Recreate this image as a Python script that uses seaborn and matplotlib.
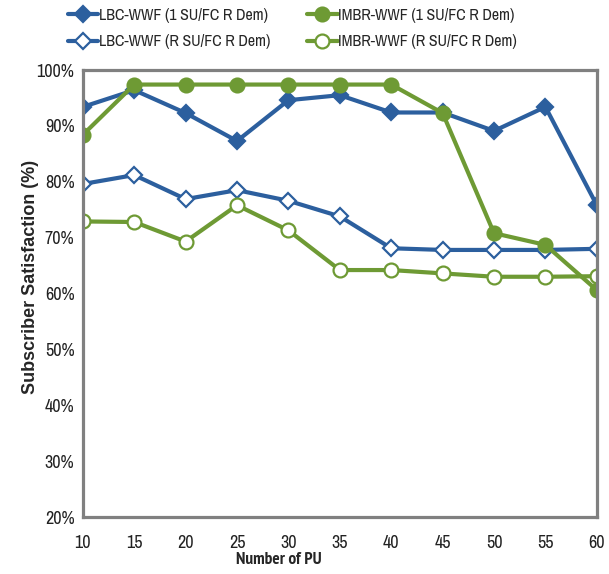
import matplotlib
matplotlib.use("Agg")
import matplotlib.pyplot as plt
import seaborn as sns
from matplotlib.ticker import FuncFormatter

# number of PU on x axis
num_pu = [10, 15, 20, 25, 30, 35, 40, 45, 50, 55, 60]

# subscriber satisfaction in %
lbc_1su = [93.4, 96.4, 92.3, 87.3, 94.6, 95.5, 92.4, 92.4, 89.1, 93.4, 75.8]
imbr_1su = [88.4, 97.4, 97.4, 97.4, 97.4, 97.4, 97.4, 92.3, 70.8, 68.7, 60.6]
lbc_rsu = [79.6, 81.2, 76.9, 78.5, 76.6, 73.8, 68.1, 67.8, 67.8, 67.8, 68.0]
imbr_rsu = [72.9, 72.8, 69.3, 75.8, 71.3, 64.2, 64.2, 63.6, 63.0, 63.0, 63.1]

labels = ["LBC-WWF (1 SU/FC R Dem)", "IMBR-WWF (1 SU/FC R Dem)",
          "LBC-WWF (R SU/FC R Dem)", "IMBR-WWF (R SU/FC R Dem)"]

BLUE = "#2c5f9e"
GREEN = "#6e9a34"

sns.set_style("white")
# narrow font like Arial Narrow, with fallbacks
plt.rcParams['font.family'] = ['Archivo Narrow', 'PT Sans Narrow', 'Liberation Sans', 'DejaVu Sans']

fig = plt.figure(figsize=(6.09, 5.74), dpi=100)
ax = fig.add_axes([0.136, 0.0993, 0.844, 0.7787])

# order chosen so legend (ncol=2) reads column-wise like the original
series = [
    (lbc_1su, labels[0], BLUE, "D", BLUE),
    (lbc_rsu, labels[2], BLUE, "D", "white"),
    (imbr_1su, labels[1], GREEN, "o", GREEN),
    (imbr_rsu, labels[3], GREEN, "o", "white"),
]
for vals, lab, col, mk, fc in series:
    sns.lineplot(x=num_pu, y=vals, ax=ax, color=col, linewidth=3,
                 marker=mk, markersize=10 if mk == "o" else 8,
                 markerfacecolor=fc, markeredgecolor=col, markeredgewidth=1.6,
                 label=lab)

ax.set_xlim(10, 60)
ax.set_ylim(20, 100)
ax.set_xticks(num_pu)
ax.set_yticks(range(20, 101, 10))
ax.yaxis.set_major_formatter(FuncFormatter(lambda v, p: f"{int(v)}%"))
ax.tick_params(axis="both", labelsize=13, colors="#808080", length=4,
               width=1, labelcolor="#222222", direction="out")
ax.tick_params(axis="x", pad=9)
ax.tick_params(axis="y", pad=2)

for s in ax.spines.values():
    s.set_color("#808080")
    s.set_linewidth(2.3)

ax.set_xlabel("Number of PU", fontsize=12.5, fontweight="bold",
              family=["PT Sans Narrow", "Liberation Sans", "DejaVu Sans"])
ax.xaxis.set_label_coords(0.381, -0.078)
ax.set_ylabel("Subscriber Satisfaction (%)", fontsize=13, fontweight="bold",
              family=["Liberation Sans", "DejaVu Sans"])
ax.yaxis.set_label_coords(-0.085, 0.537)

ax.legend(loc="upper left", bbox_to_anchor=(68 / 609, 1 - 8 / 574),
          bbox_transform=fig.transFigure, ncol=2, frameon=False,
          fontsize=11.5, handlelength=1.9, handletextpad=0.05, columnspacing=2.3,
          labelspacing=0.7, borderaxespad=0, borderpad=0)

fig.savefig("out.png", dpi=100)
